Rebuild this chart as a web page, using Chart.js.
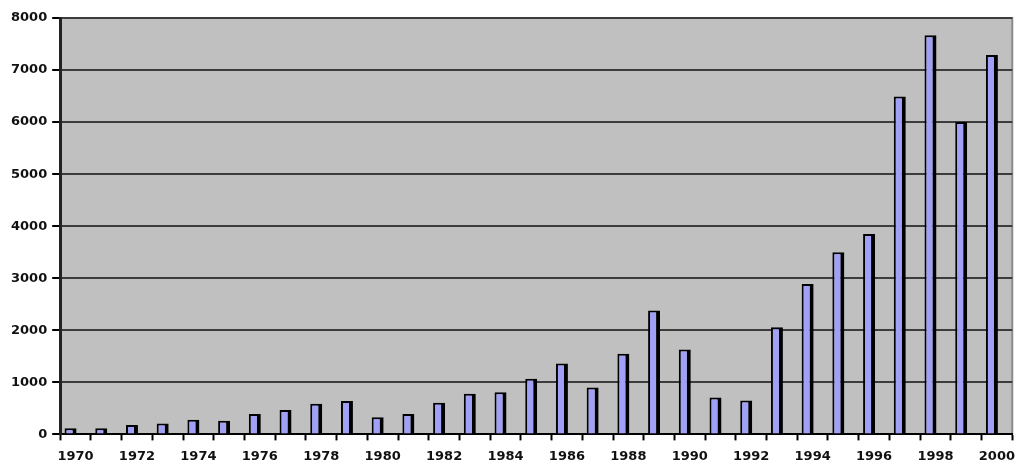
<!DOCTYPE html>
<html>
<head>
<meta charset="utf-8">
<script src="https://cdn.jsdelivr.net/npm/chart.js@4.4.1/dist/chart.umd.min.js"></script>
<style>
  html, body { margin: 0; padding: 0; background: #ffffff; overflow: hidden; }
  canvas { display: block; }
</style>
</head>
<body>
<canvas id="yearChart" width="1023" height="463"></canvas>
<script>
// 年份
const years = ['1970', '1971', '1972', '1973', '1974', '1975', '1976', '1977', '1978', '1979',
  '1980', '1981', '1982', '1983', '1984', '1985', '1986', '1987', '1988', '1989',
  '1990', '1991', '1992', '1993', '1994', '1995', '1996', '1997', '1998', '1999', '2000'];

// 每年數值
const counts = [120, 120, 180, 210, 280, 260, 390, 470, 590, 640,
  330, 390, 610, 780, 810, 1070, 1360, 900, 1550, 2380,
  1630, 710, 650, 2060, 2890, 3500, 3850, 6490, 7670, 6000, 7290];

// 縱軸刻度
const yMax = 8000;
const yStep = 1000;

// 繪圖區灰底與外框
const plotBackground = {
  id: 'plotBackground',
  beforeDraw(chart) {
    const { ctx, chartArea: a } = chart;
    ctx.save();
    ctx.fillStyle = '#c0c0c0';
    ctx.fillRect(a.left, a.top, a.right - a.left, a.bottom - a.top);
    ctx.strokeStyle = '#8a8a8a';
    ctx.lineWidth = 2;
    ctx.beginPath();
    ctx.moveTo(a.left, a.top);
    ctx.lineTo(a.right, a.top);
    ctx.lineTo(a.right, a.bottom);
    ctx.stroke();
    ctx.restore();
  }
};

const tickFont = { family: 'DejaVu Sans', size: 13, weight: 'bold' };

const ctx = document.getElementById('yearChart').getContext('2d');
const yearChart = new Chart(ctx, {
  type: 'bar',
  data: {
    labels: years,
    datasets: [{
      data: counts,
      backgroundColor: '#a0a0f6',
      borderColor: '#000000',
      borderWidth: { top: 2, right: 4, left: 2, bottom: 0 },
      borderSkipped: false,
      categoryPercentage: 0.65,
      barPercentage: 1.2
    }, {
      // 空白序列，讓柱子偏左
      data: years.map(() => null),
      categoryPercentage: 0.65,
      barPercentage: 1.2
    }]
  },
  options: {
    responsive: false,
    devicePixelRatio: 1,
    animation: false,
    layout: { padding: { left: 6, right: -5, top: 18, bottom: -9 } },
    plugins: {
      legend: { display: false },
      tooltip: { enabled: false }
    },
    scales: {
      x: {
        offset: true,
        grid: {
          offset: true,
          drawOnChartArea: false,
          drawTicks: true,
          tickLength: 6,
          tickWidth: 2,
          tickColor: '#000000'
        },
        border: { display: true, color: '#000000', width: 2 },
        ticks: {
          autoSkip: false,
          maxRotation: 0,
          padding: 8,
          color: '#111111',
          font: tickFont,
          callback: (v, i) => (i % 2 === 0 ? years[i] : '')
        }
      },
      y: {
        min: 0,
        max: yMax,
        grid: {
          color: '#3c3c3c',
          lineWidth: 2,
          drawTicks: true,
          tickLength: 8,
          tickColor: '#000000'
        },
        border: { display: true, color: '#222222', width: 3 },
        ticks: {
          stepSize: yStep,
          padding: 5,
          color: '#111111',
          font: tickFont,
          callback: v => String(v)
        }
      }
    }
  },
  plugins: [plotBackground]
});
</script>
</body>
</html>
